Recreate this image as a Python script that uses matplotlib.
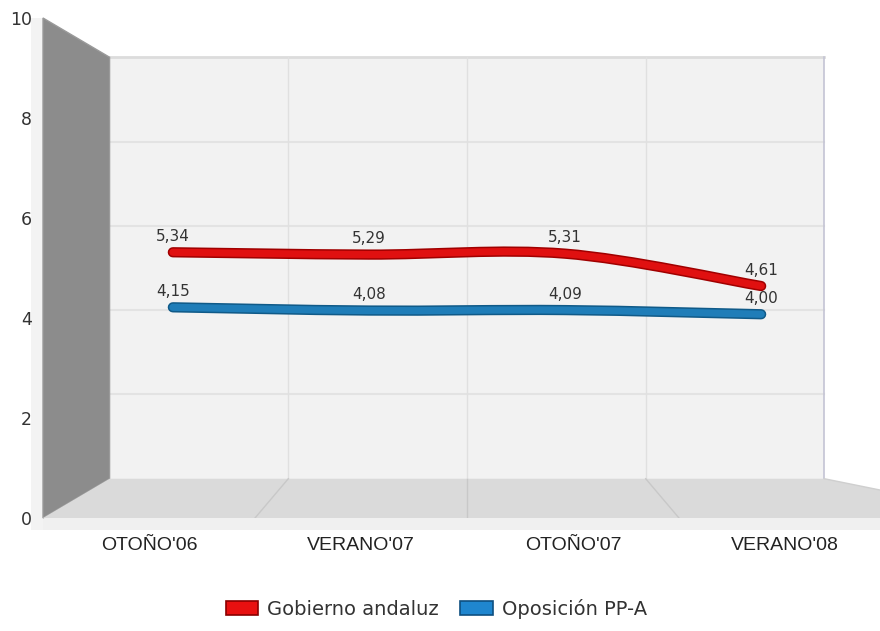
import matplotlib
matplotlib.use("Agg")
import matplotlib.pyplot as plt
import matplotlib.patheffects as pe
from matplotlib.patches import Polygon, PathPatch, Patch
from matplotlib.path import Path

# data
categories = ["OTOÑO'06", "VERANO'07", "OTOÑO'07", "VERANO'08"]
gobierno = [5.34, 5.29, 5.31, 4.61]
oposicion = [4.15, 4.08, 4.09, 4.00]
series_names = ["Gobierno andaluz", "Oposición PP-A"]
y_ticks = [0, 2, 4, 6, 8, 10]

# fake 3d: front plane is the axes, everything else shrinks toward a vanishing point
XV, YV = 1.5, 5.0
S_BACK = 0.843
S_SERIES = 0.925


def proj(x, y, s):
    return XV + (x - XV) * s, YV + (y - YV) * s


def smooth_path(xs, ys):
    pts = list(zip(xs, ys))
    ext = [pts[0]] + pts + [pts[-1]]
    verts = [pts[0]]
    codes = [Path.MOVETO]
    for i in range(1, len(ext) - 2):
        p0, p1, p2, p3 = ext[i - 1], ext[i], ext[i + 1], ext[i + 2]
        c1 = (p1[0] + (p2[0] - p0[0]) / 6, p1[1] + (p2[1] - p0[1]) / 6)
        c2 = (p2[0] - (p3[0] - p1[0]) / 6, p2[1] - (p3[1] - p1[1]) / 6)
        verts += [c1, c2, p2]
        codes += [Path.CURVE4] * 3
    return Path(verts, codes)


fig = plt.figure(figsize=(8.8, 6.31), dpi=100)
ax = fig.add_axes([43 / 880, 113 / 631, 848 / 880, 500 / 631])
ax.set_xlim(-0.5, 3.5)
ax.set_ylim(0, 10)
for sp in ax.spines.values():
    sp.set_visible(False)

x0, x1 = -0.5, len(categories) - 0.5

# back wall
bl = proj(x0, 0, S_BACK)
br = proj(x1, 0, S_BACK)
tl = proj(x0, 10, S_BACK)
tr = proj(x1, 10, S_BACK)
ax.add_patch(Polygon([bl, br, tr, tl], closed=True, facecolor="#f2f2f2",
                     edgecolor="none", zorder=0))
for yv in y_ticks[1:-1]:
    a = proj(x0, yv, S_BACK)
    b = proj(x1, yv, S_BACK)
    ax.plot([a[0], b[0]], [a[1], b[1]], color="#e3e3e3", lw=1.5, zorder=1)
ax.plot([tl[0], tr[0]], [tl[1], tr[1]], color="#dcdcdc", lw=2, zorder=1)
for k in range(1, len(categories)):
    a = proj(k - 0.5, 0, S_BACK)
    b = proj(k - 0.5, 10, S_BACK)
    ax.plot([a[0], b[0]], [a[1], b[1]], color="#e0e0e0", lw=1, zorder=1)
ax.plot([br[0], tr[0]], [br[1], tr[1]], color="#c4c4d4", lw=1.2, zorder=1)

# thin front faces
ax.add_patch(Polygon([(x0, 0), (x1 + 0.5, 0), (x1 + 0.5, -0.24), (x0, -0.24)],
                     closed=True, facecolor="#f0f0f0", edgecolor="none",
                     zorder=1, clip_on=False))
ax.add_patch(Polygon([(x0 - 0.057, 10), (x0, 10), (x0, -0.24), (x0 - 0.057, -0.24)],
                     closed=True, facecolor="#f3f3f3", edgecolor="none",
                     zorder=1, clip_on=False))

# left wall
ax.add_patch(Polygon([(x0, 10), tl, bl, (x0, 0)], closed=True,
                     facecolor="#8c8c8c", edgecolor="#9a9a9a", lw=1,
                     zorder=2, clip_on=False))

# floor
ax.add_patch(Polygon([(x0, 0), (x1 + 0.6, 0), br, bl], closed=True,
                     facecolor="#dadada", edgecolor="none", zorder=2,
                     clip_on=False))
ax.plot([br[0], x1 + 0.6], [br[1], 0], color="#cfcfcf", lw=1, zorder=2,
        clip_on=False)
for k in range(1, len(categories)):
    a = proj(k - 0.5, 0, S_BACK)
    ax.plot([a[0], k - 0.5], [a[1], 0], color="#c8c8c8", lw=1, zorder=3)

# series
series = [gobierno, oposicion]
colors = ["#e01010", "#1f7db8"]
edges = ["#a00000", "#105a88"]
for vals, c, ec in zip(series, colors, edges):
    pts = [proj(i, v, S_SERIES) for i, v in enumerate(vals)]
    xs = [p[0] for p in pts]
    ys = [p[1] for p in pts]
    patch = PathPatch(smooth_path(xs, ys), fill=False, edgecolor=c, lw=5.2,
                      capstyle="round", joinstyle="round", zorder=5)
    patch.set_path_effects([pe.Stroke(linewidth=7.4, foreground=ec,
                                      capstyle="round"), pe.Normal()])
    ax.add_patch(patch)
    for xp, yp, v in zip(xs, ys, vals):
        ax.annotate(f"{v:.2f}".replace(".", ","), (xp, yp), xytext=(0, 11.5),
                    textcoords="offset points", ha="center", va="center",
                    fontsize=11, color="#333333", zorder=6)

# axes labels
ax.set_yticks(y_ticks)
ax.set_yticklabels([str(t) for t in y_ticks], fontsize=12.5, color="#333333")
ax.set_xticks(range(len(categories)))
ax.set_xticklabels(categories, fontsize=14, color="#222222",
                   family=["Liberation Sans", "DejaVu Sans"])
ax.tick_params(axis="y", length=0, pad=8)
ax.tick_params(axis="x", length=0, pad=14)

# legend
handles = [Patch(facecolor="#e81010", edgecolor="#8a0000", lw=1.2),
           Patch(facecolor="#1f86cf", edgecolor="#0e4f80", lw=1.2)]
fig.legend(handles, series_names, loc="center", bbox_to_anchor=(0.496, 0.035),
           ncol=2, frameon=False, fontsize=14, handlelength=1.65,
           handleheight=0.75, handletextpad=0.5, columnspacing=1.1,
           labelcolor="#333333")

fig.savefig("out.png", dpi=100)
